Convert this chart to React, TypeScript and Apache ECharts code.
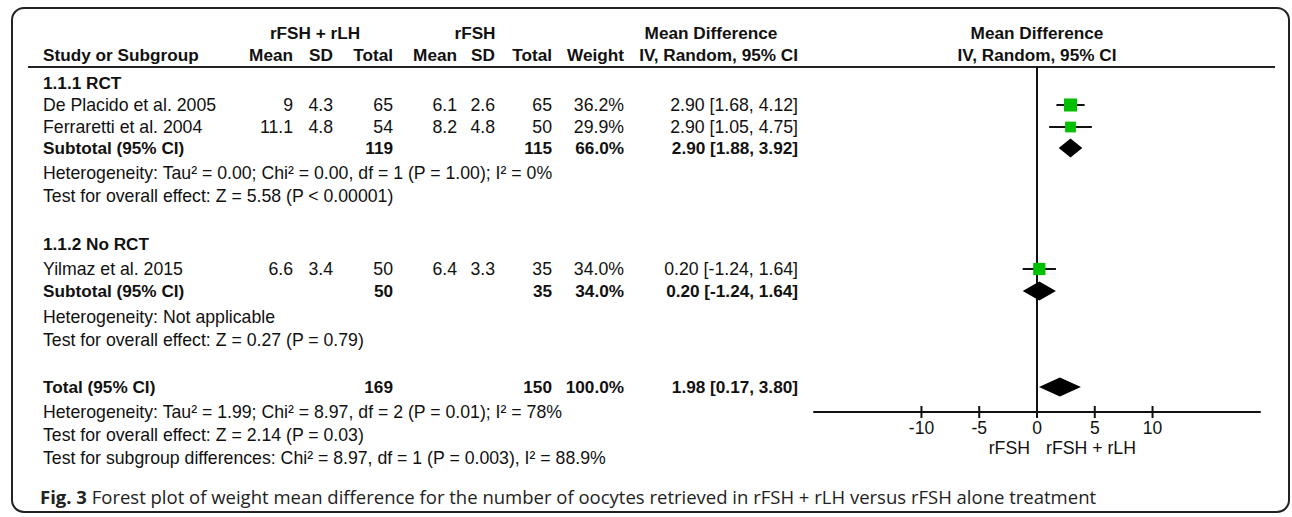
import React, { useEffect, useRef } from "react";
import * as echarts from "echarts";

// ---------------- data ----------------
const STUDIES = ["De Placido et al. 2005", "Ferraretti et al. 2004", "Yilmaz et al. 2015"];
const EXP_MEAN = [9, 11.1, 6.6];
const EXP_SD = [4.3, 4.8, 3.4];
const EXP_TOTAL = [65, 54, 50];
const CTL_MEAN = [6.1, 8.2, 6.4];
const CTL_SD = [2.6, 4.8, 3.3];
const CTL_TOTAL = [65, 50, 35];
const WEIGHT = [36.2, 29.9, 34.0];
const MD = [2.9, 2.9, 0.2];
const CI_LOW = [1.68, 1.05, -1.24];
const CI_HIGH = [4.12, 4.75, 1.64];

const POOLED_LABELS = ["Subtotal (95% CI)", "Subtotal (95% CI)", "Total (95% CI)"];
const POOLED_EXP_TOTAL = [119, 50, 169];
const POOLED_CTL_TOTAL = [115, 35, 150];
const POOLED_WEIGHT = [66.0, 34.0, 100.0];
const POOLED_MD = [2.9, 0.2, 1.98];
const POOLED_LOW = [1.88, -1.24, 0.17];
const POOLED_HIGH = [3.92, 1.64, 3.8];

const SUBGROUPS = ["1.1.1 RCT", "1.1.2 No RCT"];
const NOTES = [
  [
    "Heterogeneity: Tau² = 0.00; Chi² = 0.00, df = 1 (P = 1.00); I² = 0%",
    "Test for overall effect: Z = 5.58 (P < 0.00001)",
  ],
  ["Heterogeneity: Not applicable", "Test for overall effect: Z = 0.27 (P = 0.79)"],
  [
    "Heterogeneity: Tau² = 1.99; Chi² = 8.97, df = 2 (P = 0.01); I² = 78%",
    "Test for overall effect: Z = 2.14 (P = 0.03)",
    "Test for subgroup differences: Chi² = 8.97, df = 1 (P = 0.003), I² = 88.9%",
  ],
];
const GROUP_HEADERS = ["rFSH + rLH", "rFSH"];
const COL_HEADERS = ["Mean", "SD", "Total", "Mean", "SD", "Total", "Weight"];
const MD_HEADER = ["Mean Difference", "IV, Random, 95% CI"];
const TICKS = [-10, -5, 0, 5, 10];
const FAVOURS = ["rFSH", "rFSH + rLH"];
const CAPTION_LABEL = "Fig. 3";
const CAPTION =
  "Forest plot of weight mean difference for the number of oocytes retrieved in rFSH + rLH versus rFSH alone treatment";

// ---------------- layout ----------------
const W = 1292;
const H = 517;
const ROW = { hdr1: 33, hdr2: 55, rule: 67, axis: 412, fav: 448, cap: 496 };
const STUDY_Y = [105, 127, 269];
const POOLED_Y = [148, 291, 387];
const SUBGROUP_Y = [83, 244];
const NOTE_Y = [
  [173, 196],
  [317, 340],
  [412, 435, 458],
];
const COL = {
  name: 43,
  eMean: 293,
  eSD: 333,
  eTot: 393,
  cMean: 457,
  cSD: 495,
  cTot: 552,
  weight: 624,
  ci: 798,
  grpE: 315,
  grpC: 475,
  mdHead: 711,
};
const PLOT_LEFT = 814;
const PLOT_RIGHT = 1260;
const X_MIN = -19.3;
const X_MAX = 19.3;

const FONT = '"Liberation Sans", Arial, sans-serif';
const INK = "#111";
const GREEN = "#00c000";
const REG = 17.7;
const BOLD = 17.2;

const fmtCI = (m: number, l: number, h: number) =>
  `${m.toFixed(2)} [${l.toFixed(2)}, ${h.toFixed(2)}]`;

function txt(text: string, x: number, y: number, align: string, bold = false) {
  return {
    type: "text",
    x,
    y,
    silent: true,
    style: {
      text,
      fill: INK,
      font: `${bold ? "bold " : ""}${bold ? BOLD : REG}px ${FONT}`,
      textAlign: align,
      textVerticalAlign: "middle",
    },
  };
}

export default function App() {
  const ref = useRef<HTMLDivElement>(null);

  useEffect(() => {
    if (!ref.current) return;
    const chart = echarts.init(ref.current, undefined, { renderer: "svg" });

    const g: any[] = [];
    // frame
    g.push({
      type: "rect",
      shape: { x: 12, y: 8, width: 1277, height: 504, r: 12 },
      style: { fill: "none", stroke: "#222", lineWidth: 2 },
      silent: true,
    });
    // header
    g.push(txt(GROUP_HEADERS[0], COL.grpE, ROW.hdr1, "center", true));
    g.push(txt(GROUP_HEADERS[1], COL.grpC, ROW.hdr1, "center", true));
    g.push(txt(MD_HEADER[0], COL.mdHead, ROW.hdr1, "center", true));
    g.push(txt(MD_HEADER[1], COL.ci, ROW.hdr2, "right", true));
    g.push(txt("Study or Subgroup", COL.name, ROW.hdr2, "left", true));
    const hx = [COL.eMean, COL.eSD, COL.eTot, COL.cMean, COL.cSD, COL.cTot, COL.weight];
    COL_HEADERS.forEach((h, i) => g.push(txt(h, hx[i], ROW.hdr2, "right", true)));
    const zeroX = PLOT_LEFT + ((0 - X_MIN) / (X_MAX - X_MIN)) * (PLOT_RIGHT - PLOT_LEFT);
    g.push(txt(MD_HEADER[0], zeroX, ROW.hdr1, "center", true));
    g.push(txt(MD_HEADER[1], zeroX, ROW.hdr2, "center", true));
    g.push({
      type: "line",
      shape: { x1: 28, y1: ROW.rule, x2: 1275, y2: ROW.rule },
      style: { stroke: "#222", lineWidth: 2 },
      silent: true,
    });

    // subgroups
    SUBGROUPS.forEach((s, i) => g.push(txt(s, COL.name, SUBGROUP_Y[i], "left", true)));
    // studies
    STUDIES.forEach((s, i) => {
      const y = STUDY_Y[i];
      g.push(txt(s, COL.name, y, "left"));
      g.push(txt(String(EXP_MEAN[i]), COL.eMean, y, "right"));
      g.push(txt(String(EXP_SD[i]), COL.eSD, y, "right"));
      g.push(txt(String(EXP_TOTAL[i]), COL.eTot, y, "right"));
      g.push(txt(String(CTL_MEAN[i]), COL.cMean, y, "right"));
      g.push(txt(String(CTL_SD[i]), COL.cSD, y, "right"));
      g.push(txt(String(CTL_TOTAL[i]), COL.cTot, y, "right"));
      g.push(txt(WEIGHT[i].toFixed(1) + "%", COL.weight, y, "right"));
      g.push(txt(fmtCI(MD[i], CI_LOW[i], CI_HIGH[i]), COL.ci, y, "right"));
    });
    // pooled
    POOLED_LABELS.forEach((s, i) => {
      const y = POOLED_Y[i];
      g.push(txt(s, COL.name, y, "left", true));
      g.push(txt(String(POOLED_EXP_TOTAL[i]), COL.eTot, y, "right", true));
      g.push(txt(String(POOLED_CTL_TOTAL[i]), COL.cTot, y, "right", true));
      g.push(txt(POOLED_WEIGHT[i].toFixed(1) + "%", COL.weight, y, "right", true));
      g.push(txt(fmtCI(POOLED_MD[i], POOLED_LOW[i], POOLED_HIGH[i]), COL.ci, y, "right", true));
    });
    // notes
    NOTES.forEach((lines, i) =>
      lines.forEach((l, j) => g.push(txt(l, COL.name, NOTE_Y[i][j], "left")))
    );
    // favours labels
    g.push(txt(FAVOURS[0], zeroX - 7, ROW.fav, "right"));
    g.push(txt(FAVOURS[1], zeroX + 9, ROW.fav, "left"));
    // caption
    g.push({
      type: "text",
      x: 40,
      y: ROW.cap,
      silent: true,
      style: {
        text: `{b|${CAPTION_LABEL}} ${CAPTION}`,
        fill: "#222",
        fontFamily: '"Open Sans", sans-serif',
        fontSize: 18.5,
        textAlign: "left",
        textVerticalAlign: "middle",
        rich: {
          b: { fontFamily: '"Open Sans", sans-serif', fontSize: 18.5, fontWeight: "bold", fill: "#222" },
        },
      },
    });

    const studyData = STUDIES.map((_, i) => [MD[i], CI_LOW[i], CI_HIGH[i], STUDY_Y[i], WEIGHT[i]]);
    const pooledData = POOLED_LABELS.map((_, i) => [
      POOLED_MD[i],
      POOLED_LOW[i],
      POOLED_HIGH[i],
      POOLED_Y[i],
    ]);

    chart.setOption({
      animation: false,
      grid: {
        left: PLOT_LEFT,
        width: PLOT_RIGHT - PLOT_LEFT,
        top: ROW.rule,
        height: ROW.axis - ROW.rule,
        containLabel: false,
      },
      xAxis: {
        type: "value",
        min: X_MIN,
        max: X_MAX,
        axisLine: { show: true, lineStyle: { color: INK, width: 2 } },
        axisTick: { show: false },
        splitLine: { show: false },
        axisLabel: {
          customValues: TICKS,
          color: INK,
          fontSize: 17.5,
          fontFamily: FONT,
          margin: 7,
        },
      },
      yAxis: {
        type: "value",
        min: ROW.rule,
        max: ROW.axis,
        inverse: true,
        show: false,
      },
      graphic: g,
      series: [
        {
          type: "custom",
          name: "axis",
          clip: false,
          silent: true,
          data: TICKS.map((t) => [t]),
          encode: { x: 0 },
          renderItem: (params: any, api: any) => {
            const v = api.value(0);
            const p = api.coord([v, ROW.axis]);
            const children: any[] = [
              {
                type: "line",
                shape: { x1: p[0], y1: p[1] - 6, x2: p[0], y2: p[1] + 6 },
                style: { stroke: INK, lineWidth: 2 },
              },
            ];
            if (v === 0) {
              const top = api.coord([0, ROW.rule]);
              children.push({
                type: "line",
                shape: { x1: p[0], y1: top[1], x2: p[0], y2: p[1] },
                style: { stroke: INK, lineWidth: 2 },
              });
            }
            return { type: "group", children };
          },
        },
        {
          type: "custom",
          name: "studies",
          clip: false,
          silent: true,
          data: studyData,
          encode: { x: [0, 1, 2], y: 3 },
          renderItem: (params: any, api: any) => {
            const m = api.value(0);
            const lo = api.value(1);
            const hi = api.value(2);
            const y = api.value(3);
            const w = api.value(4);
            const a = api.coord([lo, y]);
            const b = api.coord([hi, y]);
            const c = api.coord([m, y]);
            const s = w * 0.36;
            return {
              type: "group",
              children: [
                {
                  type: "line",
                  shape: { x1: a[0], y1: a[1], x2: b[0], y2: b[1] },
                  style: { stroke: INK, lineWidth: 2 },
                },
                {
                  type: "rect",
                  shape: { x: c[0] - s / 2, y: c[1] - s / 2, width: s, height: s },
                  style: { fill: GREEN },
                },
              ],
            };
          },
        },
        {
          type: "custom",
          name: "pooled",
          clip: false,
          silent: true,
          data: pooledData,
          encode: { x: [0, 1, 2], y: 3 },
          renderItem: (params: any, api: any) => {
            const m = api.value(0);
            const lo = api.value(1);
            const hi = api.value(2);
            const y = api.value(3);
            const a = api.coord([lo, y]);
            const b = api.coord([hi, y]);
            const c = api.coord([m, y]);
            const h = 9.5;
            return {
              type: "polygon",
              shape: {
                points: [
                  [a[0], a[1]],
                  [c[0], c[1] - h],
                  [b[0], b[1]],
                  [c[0], c[1] + h],
                ],
              },
              style: { fill: "#000" },
            };
          },
        },
      ],
    });

    return () => chart.dispose();
  }, []);

  return (
    <div
      ref={ref}
      style={{ position: "fixed", left: 0, top: 0, width: W, height: H, background: "#fff" }}
    />
  );
}
